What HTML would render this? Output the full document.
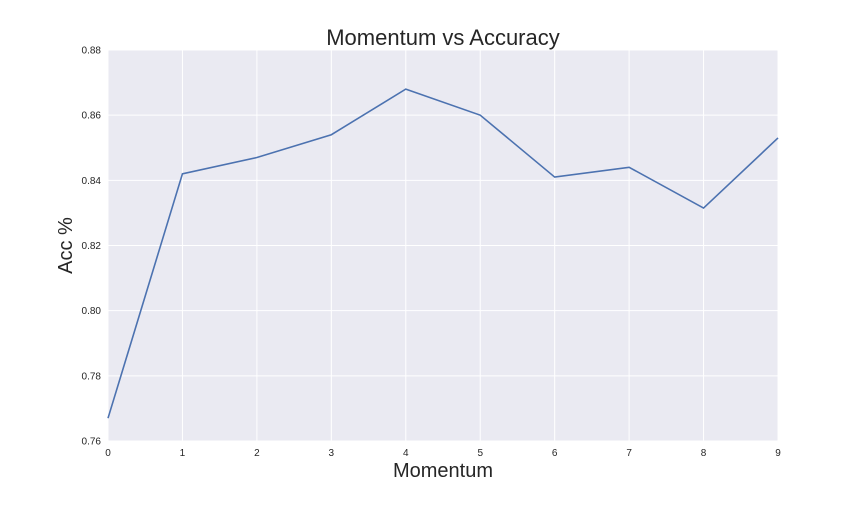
<!DOCTYPE html>
<html><head><meta charset="utf-8"><style>
body{margin:0;background:#fff;width:864px;height:504px;overflow:hidden}
text{font-family:"Liberation Sans",sans-serif}
</style></head><body>
<svg id="chart" width="864" height="504" xmlns="http://www.w3.org/2000/svg"></svg>
<script>
const categories=[0,1,2,3,4,5,6,7,8,9];
const accValues=[0.767,0.842,0.847,0.854,0.868,0.860,0.841,0.844,0.8315,0.853];
const yTicks=[0.76,0.78,0.80,0.82,0.84,0.86,0.88];
const xTicks=[0,1,2,3,4,5,6,7,8,9];
const L=108,R=778,T=50,B=441;
const xs=v=>L+(v-0)/(9-0)*(R-L);
const ys=v=>B-(v-0.76)/(0.88-0.76)*(B-T);
const svg=document.getElementById('chart');
const NS='http://www.w3.org/2000/svg';
function mk(tag,attrs,parent){const e=document.createElementNS(NS,tag);for(const k in attrs)e.setAttribute(k,attrs[k]);(parent||svg).appendChild(e);return e;}
const bg=mk('rect',{x:L,y:T,width:R-L,height:B-T,fill:'#eaeaf2'});


xTicks.forEach(t=>{
 const g=mk('line',{x1:xs(t),x2:xs(t),y1:T,y2:B,stroke:'#fff','stroke-width':1});
 
 
 const tx=mk('text',{x:xs(t),y:B+15,'text-anchor':'middle','font-size':10,fill:'#262626'});
 tx.textContent=t;
 
 
});
yTicks.forEach(t=>{
 const g=mk('line',{x1:L,x2:R,y1:ys(t),y2:ys(t),stroke:'#fff','stroke-width':1});
 
 
 const tx=mk('text',{x:L-7,y:ys(t)+3.5,'text-anchor':'end','font-size':10,fill:'#262626'});
 tx.textContent=t.toFixed(2);
 
 
});
const line=mk('polyline',{points:categories.map((c,i)=>xs(c)+','+ys(accValues[i])).join(' '),fill:'none',stroke:'#4c72b0','stroke-width':1.6});


const title=mk('text',{x:(L+R)/2,y:45,'text-anchor':'middle','font-size':22,fill:'#262626'});
title.textContent='Momentum vs Accuracy';


const xt=mk('text',{x:(L+R)/2,y:477,'text-anchor':'middle','font-size':20,fill:'#262626'});
xt.textContent='Momentum';


const yt=mk('text',{x:72,y:(T+B)/2,'text-anchor':'middle','font-size':20,fill:'#262626',transform:'rotate(-90 72 '+((T+B)/2)+')'});
yt.textContent='Acc %';


</script>
</body></html>
